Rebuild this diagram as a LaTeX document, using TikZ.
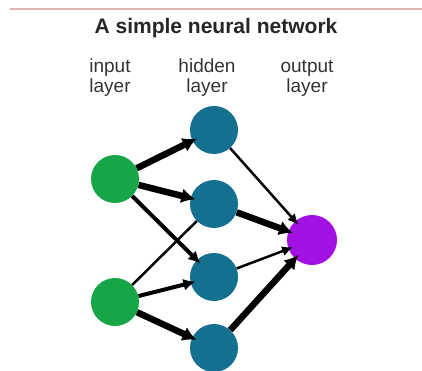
\documentclass[tikz,border=0pt]{standalone}
\usepackage{fontspec}
\setmainfont{Liberation Sans}
\usepackage{xcolor}
\usetikzlibrary{arrows.meta}

\definecolor{inputgreen}{RGB}{22,166,72}
\definecolor{hiddenteal}{RGB}{20,112,142}
\definecolor{outputpurple}{RGB}{162,16,226}
\definecolor{ruleline}{RGB}{226,178,178}

\tikzset{
  neuron/.style={circle, minimum size=48pt, inner sep=0pt},
  inneuron/.style={neuron, fill=inputgreen},
  hidneuron/.style={neuron, fill=hiddenteal},
  outneuron/.style={neuron, fill=outputpurple, minimum size=50pt},
  heavy/.style={line width=6.5pt, -{Latex[length=14pt,width=15pt]}, shorten >=-5pt},
  medium/.style={line width=4pt, -{Latex[length=12pt,width=12pt]}, shorten >=-5pt},
  light/.style={line width=2.5pt, -{Latex[length=11pt,width=10pt]}, shorten >=-5pt},
  layerlabel/.style={align=center, font=\fontsize{19}{20}\selectfont, text=black!80}
}

\begin{document}
\begin{tikzpicture}[x=1pt,y=-1pt]
\useasboundingbox (0,0) rectangle (422,371);
\draw[ruleline, line width=1.2pt] (10,9) -- (422,9); % top rule

% Title and layer names
\node[font=\bfseries\fontsize{21}{22}\selectfont, text=black!85] (title) at (216,28) {A simple neural network};
\node[layerlabel] (inlabel) at (110,78) {input\\layer};
\node[layerlabel] (hidlabel) at (207,78) {hidden\\layer};
\node[layerlabel] (outlabel) at (307,78) {output\\layer};

% Neurons
\node[inneuron] (i1) at (115,179) {};
\node[inneuron] (i2) at (115,302) {};
\node[hidneuron] (h1) at (214,130) {};
\node[hidneuron] (h2) at (214,204) {};
\node[hidneuron] (h3) at (214,277) {};
\node[hidneuron] (h4) at (214,348) {};
\node[outneuron] (o) at (312,240) {};

% Connections, width = weight
\draw[heavy] (i1) -- (h1);
\draw[heavy] (i1) -- (h2);
\draw[medium] (i1) -- (h3);
\draw[line width=2.5pt] (i2) -- (h2);
\draw[medium] (i2) -- (h3);
\draw[heavy] (i2) -- (h4);
\draw[light] (h1) -- (o);
\draw[heavy] (h2) -- (o);
\draw[light] (h3) -- (o);
\draw[heavy] (h4) -- (o);
\end{tikzpicture}
\end{document}
